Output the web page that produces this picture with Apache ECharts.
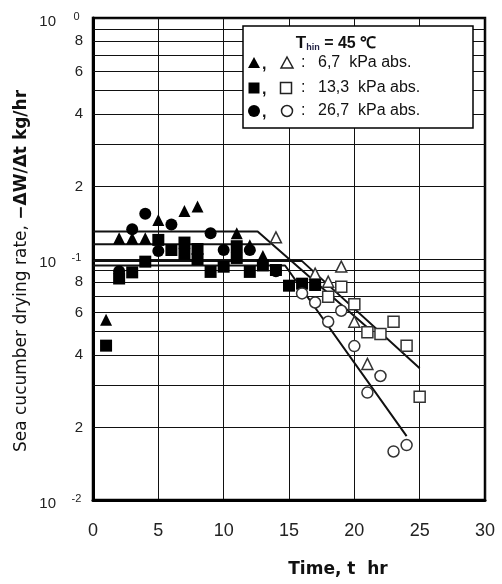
<!DOCTYPE html>
<html><head><meta charset="utf-8">
<script src="https://cdn.jsdelivr.net/npm/echarts@6/dist/echarts.min.js"></script>
<style>html,body{margin:0;padding:0;background:#fff}#c{width:502px;height:584px}</style>
</head><body><div id="c"></div>
<script>
// ---- tick definitions ----
const xTickValues = [0, 5, 10, 15, 20, 25, 30];
const yMajorValues = [0.01, 0.1, 1];
const yMajorExp = ['-2', '-1', '0'];
const yMinorGridValues = [0.02,0.03,0.04,0.05,0.06,0.07,0.08,0.09,0.2,0.3,0.4,0.5,0.6,0.7,0.8,0.9];
const yMinorLabelValues = [0.02,0.04,0.06,0.08,0.2,0.4,0.6,0.8];
const yMinorLabelTexts = ['2','4','6','8','2','4','6','8'];

// ---- data: [time hr, drying rate kg/hr] ----
const p67Filled = [[1,0.056],[2,0.122],[3,0.122],[4,0.122],[5,0.145],[7,0.158],[8,0.165],[11,0.128],[12,0.114],[13,0.103]];
const p67Open = [[14,0.123],[17,0.087],[18,0.0805],[19,0.093],[20,0.0549],[21,0.0367]];
const p133Filled = [[1,0.0437],[2,0.083],[3,0.088],[4,0.0975],[5,0.12],[6,0.109],[7,0.117],[7,0.105],[8,0.11],[8,0.1],[9,0.0884],[10,0.0929],[11,0.113],[11,0.101],[12,0.0884],[13,0.094],[14,0.09],[15,0.0775],[16,0.079],[17,0.078]];
const p133Open = [[18,0.0698],[19,0.0767],[20,0.0649],[21,0.0497],[22,0.0488],[23,0.0549],[24,0.0437],[25,0.0268]];
const p267Filled = [[2,0.089],[3,0.133],[4,0.154],[5,0.108],[6,0.139],[9,0.128],[10,0.109],[12,0.109],[14,0.089]];
const p267Open = [[16,0.072],[17,0.066],[18,0.0549],[19,0.061],[20,0.0435],[21,0.0279],[22,0.0327],[23,0.0159],[24,0.0169]];

// fitted lines
const fitA = [[0,0.13],[12.6,0.13],[21,0.052]];
const fitB = [[0,0.115],[13.6,0.115]];
const fitC = [[0,0.098],[16,0.098],[25,0.0352]];
const fitD = [[0,0.094],[14.7,0.094],[24,0.0184]];

const FONT = '"Liberation Sans", Arial, sans-serif';
const WFONT = '"DejaVu Sans", "Liberation Sans", sans-serif';
const INK = '#111';

const chart = echarts.init(document.getElementById('c'), null, {renderer: 'canvas'});

const minorMarks = yMinorGridValues.map(v => {
  const idx = yMinorLabelValues.indexOf(v);
  return {
    yAxis: v,
    label: idx >= 0 ? {show: true, formatter: yMinorLabelTexts[idx]} : {show: false}
  };
});

function scatter(name, data, symbol, filled) {
  return {
    name, type: 'scatter', data, symbol,
    symbolSize: filled ? 12 : 11,
    z: 5,
    itemStyle: filled ? {color: '#000', opacity: 1} : {color: '#fff', borderColor: '#333', borderWidth: 1.5, opacity: 1},
    emphasis: {disabled: true}
  };
}
function fit(data) {
  return {type: 'line', data, symbol: 'none', z: 4, lineStyle: {color: '#111', width: 2}, emphasis: {disabled: true}};
}

const ZL = 100;
const tri = (cx, cy, s, filled) => ({
  type: 'polygon', z: ZL + 1, shape: {points: [[cx, cy - s/2], [cx + s/2, cy + s/2 - 1], [cx - s/2, cy + s/2 - 1]]},
  style: filled ? {fill: '#000'} : {fill: '#fff', stroke: '#222', lineWidth: 1.5}
});
const sq = (cx, cy, s, filled) => ({
  type: 'rect', z: ZL + 1, shape: {x: cx - s/2, y: cy - s/2, width: s, height: s},
  style: filled ? {fill: '#000'} : {fill: '#fff', stroke: '#222', lineWidth: 1.5}
});
const circ = (cx, cy, s, filled) => ({
  type: 'circle', z: ZL + 1, shape: {cx, cy, r: s/2},
  style: filled ? {fill: '#000'} : {fill: '#fff', stroke: '#222', lineWidth: 1.5}
});
const txt = (x, y, text, opts) => ({
  type: 'text', z: ZL + 1, x, y,
  style: Object.assign({text, font: '16px ' + FONT, fill: INK, textVerticalAlign: 'middle'}, opts || {})
});

const rows = [63, 88, 111];
const legendEls = [
  {type: 'rect', z: ZL, shape: {x: 243, y: 26, width: 230, height: 102}, style: {fill: '#fff', stroke: '#000', lineWidth: 1.5}},
  {type: 'text', z: ZL + 1, x: 336, y: 42, style: {
    text: '{t|T}{h|hin}{r| = 45 ℃}', textAlign: 'center', textVerticalAlign: 'middle',
    rich: {
      t: {font: 'bold 17px ' + FONT, fill: INK, lineHeight: 20, verticalAlign: 'bottom'},
      h: {font: 'bold 9px ' + FONT, fill: '#224', lineHeight: 14, verticalAlign: 'bottom'},
      r: {font: 'bold 16px ' + FONT, fill: INK, lineHeight: 20, verticalAlign: 'bottom'}
    }
  }},
  tri(254, rows[0], 12, true), tri(287, rows[0], 12, false),
  sq(254, rows[1], 11, true), sq(286, rows[1], 11, false),
  circ(254, rows[2], 12, true), circ(287, rows[2], 11, false),
  txt(262, rows[0] + 2, ',', {font: 'bold 16px ' + FONT}), txt(262, rows[1] + 2, ',', {font: 'bold 16px ' + FONT}), txt(262, rows[2] + 2, ',', {font: 'bold 16px ' + FONT}),
  txt(301, rows[0], ':'), txt(301, rows[1], ':'), txt(301, rows[2], ':'),
  txt(318, rows[0], '6,7  kPa abs.'), txt(318, rows[1], '13,3  kPa abs.'), txt(318, rows[2], '26,7  kPa abs.')
];

const option = {
  animation: false,
  backgroundColor: '#fff',
  grid: {left: 93, top: 18, right: 17, bottom: 84, show: true, borderColor: '#000', borderWidth: 2.5, containLabel: false, outerBoundsMode: 'none'},
  xAxis: {
    type: 'value', min: xTickValues[0], max: xTickValues[xTickValues.length - 1], interval: 5,
    axisLine: {show: true, onZero: false, lineStyle: {color: '#000', width: 3}},
    axisTick: {show: false},
    axisLabel: {color: '#222', fontSize: 18, fontFamily: FONT, margin: 22},
    splitLine: {show: true, lineStyle: {color: '#111', width: 1}}
  },
  yAxis: {
    type: 'log', logBase: 10, min: yMajorValues[0], max: yMajorValues[yMajorValues.length - 1],
    axisLine: {show: true, lineStyle: {color: '#000', width: 3}},
    axisTick: {show: false},
    splitLine: {show: true, lineStyle: {color: '#111', width: 1}},
    axisLabel: {
      showMinLabel: true, showMaxLabel: true, margin: 10, padding: [4, 0, 0, 0],
      formatter: v => {
        const i = yMajorValues.findIndex(m => Math.abs(Math.log10(m) - Math.log10(v)) < 1e-6);
        if (i < 0) return '';
        return '{n|10}{s|' + yMajorExp[i] + '}';
      },
      rich: {
        n: {fontSize: 15, fontFamily: FONT, color: '#222', lineHeight: 18, verticalAlign: 'bottom'},
        s: {fontSize: 11, fontFamily: FONT, color: '#222', lineHeight: 12, verticalAlign: 'top', width: 13, align: 'left', padding: [0, 0, 0, 14]}
      }
    }
  },
  series: [
    {
      type: 'line', data: [], symbol: 'none', z: 1, clip: false, silent: true,
      markLine: {
        silent: true, symbol: ['none', 'none'], animation: false,
        lineStyle: {color: '#111', width: 1, type: 'solid'},
        label: {show: false, position: 'start', distance: 10, color: '#222', fontSize: 15, fontFamily: FONT},
        emphasis: {disabled: true},
        data: minorMarks
      }
    },
    fit(fitA), fit(fitB), fit(fitC), fit(fitD),
    scatter('6.7 filled', p67Filled, 'triangle', true),
    scatter('6.7 open', p67Open, 'triangle', false),
    scatter('13.3 filled', p133Filled, 'rect', true),
    scatter('13.3 open', p133Open, 'rect', false),
    scatter('26.7 filled', p267Filled, 'circle', true),
    scatter('26.7 open', p267Open, 'circle', false)
  ],
  graphic: [
    {type: 'group', z: ZL, children: legendEls},
    {type: 'text', x: 22, y: 271, rotation: Math.PI / 2, z: ZL, style: {
      text: '{a|Sea cucumber drying rate, }{b|−ΔW/Δt kg/hr}', textAlign: 'center', textVerticalAlign: 'middle',
      rich: {
        a: {font: '17px ' + WFONT, fill: INK},
        b: {font: 'bold 17px ' + WFONT, fill: INK}
      }
    }},
    {type: 'text', x: 338, y: 570, z: ZL, style: {text: 'Time, t  hr', font: 'bold 17px ' + WFONT, fill: INK, textAlign: 'center', textVerticalAlign: 'middle'}}
  ]
};
chart.setOption(option);
</script>
</body></html>
